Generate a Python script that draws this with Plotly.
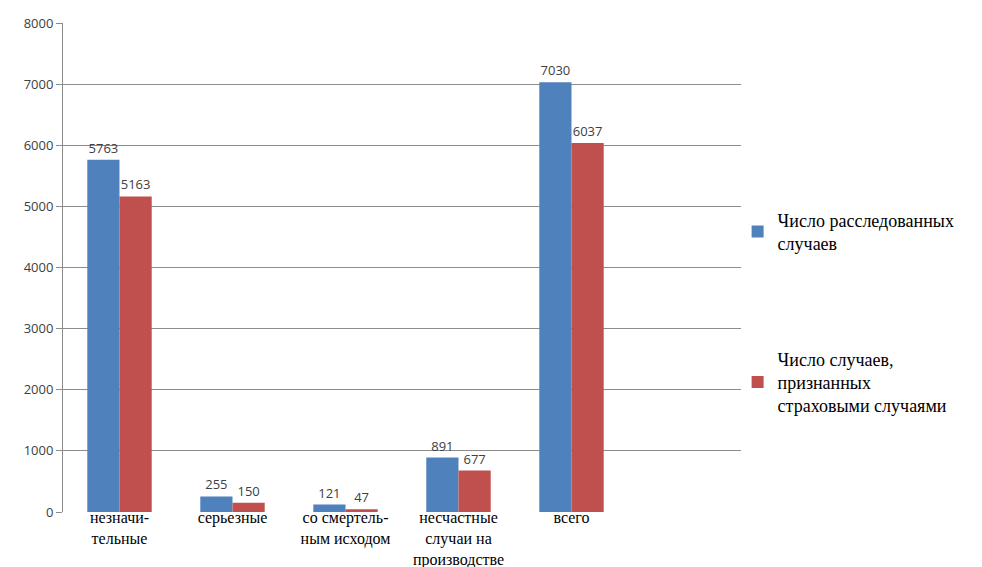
import plotly.graph_objects as go

categories = ["незначи-<br>тельные", "серьезные", "со смертель-<br>ным исходом",
              "несчастные<br>случаи на<br>производстве", "всего"]
investigated = [5763, 255, 121, 891, 7030]
insured = [5163, 150, 47, 677, 6037]
series_names = ["Число расследованных<br>случаев",
                "Число случаев,<br>признанных<br>страховыми случаями"]
y_ticks = [0, 1000, 2000, 3000, 4000, 5000, 6000, 7000, 8000]

x_pos = list(range(len(categories)))
SERIF = "'Liberation Serif', 'Times New Roman', serif"
SANS = "'Open Sans', sans-serif"

fig = go.Figure()
fig.add_trace(go.Bar(
    x=x_pos, y=investigated, name=series_names[0],
    marker=dict(color="#4F81BD", line=dict(width=0)),
    text=[str(v) for v in investigated], textposition="outside",
    textfont=dict(family=SANS, size=13, color="#404040"),
    cliponaxis=False, legendgroup="a",
))
fig.add_trace(go.Bar(
    x=x_pos, y=insured, name=series_names[1],
    marker=dict(color="#C0504D", line=dict(width=0)),
    text=[str(v) for v in insured], textposition="outside",
    textfont=dict(family=SANS, size=13, color="#404040"),
    cliponaxis=False, legendgroup="b",
))

fig.update_layout(
    width=982, height=567,
    margin=dict(l=55, r=249, t=15, b=63, autoexpand=False),
    paper_bgcolor="white", plot_bgcolor="white",
    barmode="group", bargap=0.43, bargroupgap=0,
    showlegend=True,
    legend=dict(
        x=0.995, y=0.635, xanchor="left", yanchor="top",
        font=dict(family=SERIF, size=18, color="#000000"),
        tracegroupgap=89, itemwidth=30,
        bgcolor="rgba(0,0,0,0)",
    ),
    xaxis=dict(
        range=[-0.5, 5.5], tickmode="array", tickvals=x_pos, ticktext=categories,
        showgrid=False, zeroline=False, showline=False, ticks="",
        tickfont=dict(family=SERIF, size=16, color="#000000"),
        ticklabelstandoff=-6,
        automargin=False,
    ),
    yaxis=dict(
        range=[0, 8000], tickmode="array", tickvals=y_ticks,
        showgrid=True, gridcolor="#8C8C8C", gridwidth=1,
        zeroline=False, showline=True, linecolor="#8C8C8C", linewidth=1,
        ticks="outside", ticklen=6, tickcolor="#8C8C8C",
        tickfont=dict(family=SANS, size=13, color="#404040"),
        automargin=False,
    ),
)

fig.write_html("out.html")
